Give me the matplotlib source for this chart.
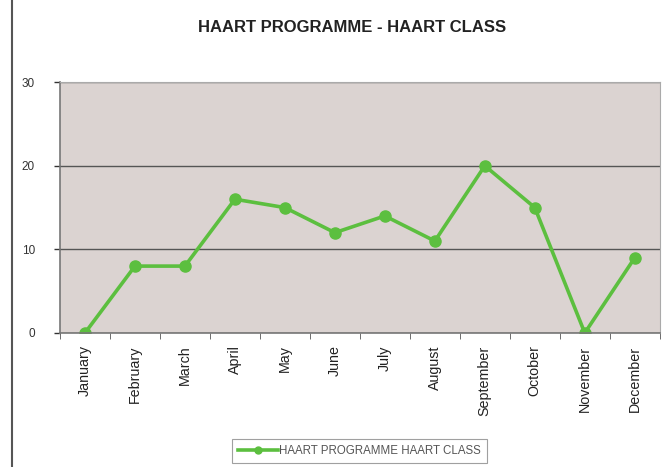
import matplotlib.pyplot as plt
import numpy as np
from matplotlib.lines import Line2D

months = ["January", "February", "March", "April", "May", "June", "July",
          "August", "September", "October", "November", "December"]
values = [0, 8, 8, 16, 15, 12, 14, 11, 20, 15, 0, 9]
series_name = "HAART PROGRAMME HAART CLASS"
title = "HAART PROGRAMME - HAART CLASS"

green = "#5cbf3f"
plt.rcParams["font.family"] = ["Liberation Sans", "DejaVu Sans"]

fig = plt.figure(figsize=(6.62, 4.67), dpi=100)
ax = fig.add_axes([0.0906, 0.287, 0.906, 0.537])
ax.set_facecolor("#dbd3d1")

x = np.arange(len(months))
ax.plot(x, values, color=green, lw=2.6, marker="o", ms=8, label=series_name)

ax.set_xlim(-0.5, len(months) - 0.5)
ax.set_ylim(0, 30)
ax.set_yticks([0, 10, 20, 30])
ax.tick_params(axis="y", labelsize=8.5, colors="#333333", length=4, width=1, pad=14)
ax.yaxis.grid(True, color="#555555", lw=1)
ax.set_axisbelow(True)

ax.set_xticks(x)
ax.set_xticklabels(months, rotation=90, fontsize=10.3, color="#222222")
ax.tick_params(axis="x", length=0, pad=9)
ax.set_xticks(np.arange(-0.5, len(months)), minor=True)
ax.tick_params(axis="x", which="minor", length=4, color="#555555")

for s in ["top", "right"]:
    ax.spines[s].set_color("#aaaaaa")
for s in ["left", "bottom"]:
    ax.spines[s].set_color("#777777")
    ax.spines[s].set_linewidth(1.2)

fig.text(0.532, 0.942, title, ha="center", va="center", fontsize=12,
         fontweight="bold", color="#222222")

handle = Line2D([], [], color=green, lw=2.6, marker="o", ms=5)
leg = fig.legend([handle], [series_name], loc="center", bbox_to_anchor=(0.543, 0.034),
                 fontsize=8.3, frameon=True, fancybox=False, handlelength=3.5,
                 borderpad=0.5, handletextpad=0.1)
leg.get_frame().set_edgecolor("#888888")
leg.get_frame().set_linewidth(0.8)
for t in leg.get_texts():
    t.set_color("#555555")

fig.add_artist(Line2D([0.018, 0.018], [0, 1], color="#555555", lw=1.5,
                      transform=fig.transFigure))

fig.savefig("out.png", dpi=100)
